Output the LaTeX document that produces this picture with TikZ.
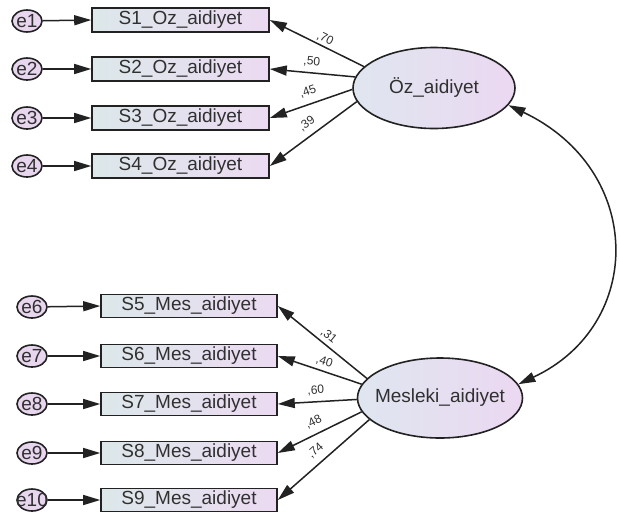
\documentclass[tikz,border=0pt]{standalone}
\usepackage{fontspec}
\setmainfont{Liberation Sans}
\usetikzlibrary{arrows.meta,shapes.geometric}
\definecolor{boxL}{HTML}{DCE8EA}
\definecolor{boxR}{HTML}{ECDAF2}
\definecolor{latL}{HTML}{DFE6F0}
\definecolor{latR}{HTML}{EBD8F1}
\definecolor{errC}{HTML}{E8D6EF}
\definecolor{lineC}{HTML}{222222}
\definecolor{txtC}{HTML}{303030}
\begin{document}
\begin{tikzpicture}[x=1pt,y=-1pt,
  bigfont/.style={font=\fontsize{19}{19}\selectfont},
  obs/.style={draw=lineC, line width=1.6pt, minimum width=177pt, minimum height=24pt, inner sep=0pt, left color=boxL, right color=boxR, bigfont, text=txtC},
  err/.style={ellipse, draw=lineC, line width=1.6pt, minimum width=30pt, minimum height=22pt, inner sep=0pt, fill=errC},
  errtxt/.style={bigfont, text=txtC, inner sep=0pt},
  lat/.style={ellipse, draw=lineC, line width=1.6pt, minimum width=162pt, minimum height=81pt, inner sep=0pt, left color=latL, right color=latR},
  arr/.style={-{Triangle[length=17pt,width=10pt]}, line width=1.5pt, draw=lineC},
  dblarr/.style={{Triangle[length=17pt,width=10pt]}-{Triangle[length=17pt,width=10pt]}, line width=1.5pt, draw=lineC},
  lbl/.style={font=\fontsize{12}{12}\selectfont, text=txtC, sloped, inner sep=1.5pt}
]
\useasboundingbox (0,0) rectangle (620,517);

% top group
\node[obs] (s1) at (180.5,20) {S1\_Oz\_aidiyet};
\node[obs] (s2) at (180.5,69) {S2\_Oz\_aidiyet};
\node[obs] (s3) at (180.5,118) {S3\_Oz\_aidiyet};
\node[obs] (s4) at (180.5,166) {S4\_Oz\_aidiyet};
\node[err] (e1) at (27,21) {}; \node[errtxt] (t1) at (e1.center) {e1};
\node[err] (e2) at (27,69) {}; \node[errtxt] (t2) at (e2.center) {e2};
\node[err] (e3) at (27,118) {}; \node[errtxt] (t3) at (e3.center) {e3};
\node[err] (e4) at (27,166) {}; \node[errtxt] (t4) at (e4.center) {e4};
\node[lat] (oz) at (434,88) {};
\node[bigfont, text=txtC] (ozt) at (oz.center) {Öz\_aidiyet};

% bottom group
\begin{scope}[obs/.append style={minimum width=176pt, minimum height=23pt}]
\node[obs] (s5) at (189,306) {S5\_Mes\_aidiyet};
\node[obs] (s6) at (189,356) {S6\_Mes\_aidiyet};
\node[obs] (s7) at (189,404) {S7\_Mes\_aidiyet};
\node[obs] (s8) at (189,453) {S8\_Mes\_aidiyet};
\node[obs] (s9) at (189,500) {S9\_Mes\_aidiyet};
\end{scope}
\node[err] (e6) at (32,307) {}; \node[errtxt] (t6) at (e6.center) {e6};
\node[err] (e7) at (32,356) {}; \node[errtxt] (t7) at (e7.center) {e7};
\node[err] (e8) at (32,404) {}; \node[errtxt] (t8) at (e8.center) {e8};
\node[err] (e9) at (32,453) {}; \node[errtxt] (t9) at (e9.center) {e9};
\node[err] (e10) at (32,500) {}; \node[errtxt] (t10) at (e10.center) {e10};
\node[lat, minimum width=165pt, minimum height=80pt] (mes) at (440,398) {};
\node[bigfont, text=txtC] (mest) at (mes.center) {Mesleki\_aidiyet};

% error arrows
\foreach \e/\s in {e1/s1,e2/s2,e3/s3,e4/s4,e6/s5,e7/s6,e8/s7,e9/s8,e10/s9}
  \draw[arr] (\e) -- (\s.west);

% loadings
\draw[arr] (oz.163) -- node[lbl, pos=0.45, above=0.5pt] {,70} (s1.east);
\draw[arr] (oz.172) -- node[lbl, pos=0.52, above=4pt] {,50} (s2.east);
\draw[arr] (oz.181) -- node[lbl, pos=0.49, above=5pt] {,45} (s3.east);
\draw[arr] (oz.190) -- node[lbl, pos=0.49, above=5pt] {,39} (s4.east);

\draw[arr] (mes.165) -- node[lbl, pos=0.49, above=1.5pt] {,31} (s5.east);
\draw[arr] (mes.170) -- node[lbl, pos=0.48, above=2.5pt] {,40} (s6.east);
\draw[arr] (mes.181) -- node[lbl, pos=0.51, above=4pt] {,60} (s7.east);
\draw[arr] (mes.190) -- node[lbl, pos=0.51, above=5pt] {,48} (s8.east);
\draw[arr] (mes.197) -- node[lbl, pos=0.50, above=5pt] {,74} (s9.east);

% correlation
\draw[dblarr] (oz.-13) .. controls (645,170) and (645,325) .. (mes.10);
\end{tikzpicture}
\end{document}
